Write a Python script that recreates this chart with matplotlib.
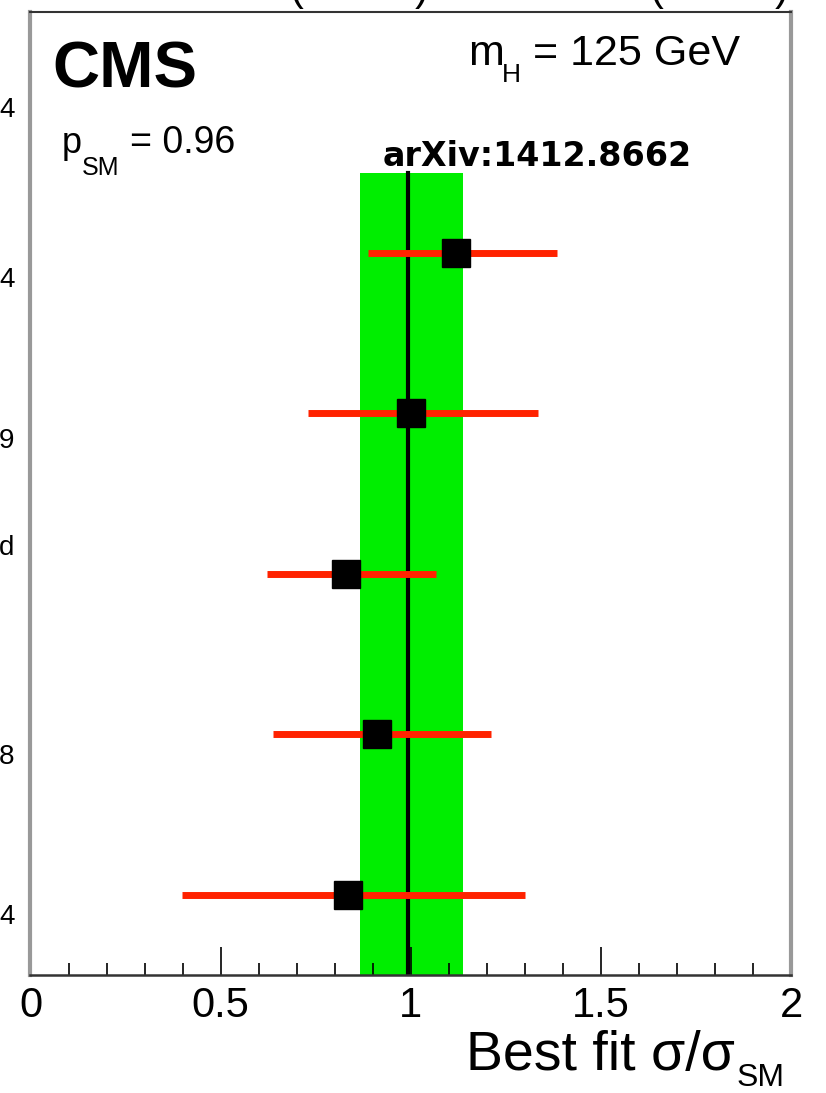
import matplotlib
matplotlib.use("Agg")
import matplotlib.pyplot as plt
from matplotlib.ticker import MultipleLocator

plt.rcParams['font.family'] = ['Liberation Sans', 'DejaVu Sans']
plt.rcParams['mathtext.fontset'] = 'custom'
plt.rcParams['mathtext.rm'] = 'Liberation Sans'

# best fit signal strength per channel, bottom to top
rows = [0.5, 1.5, 2.5, 3.5, 4.5]
mu = [0.835, 0.911, 0.830, 1.00, 1.12]
mu_lo = [0.398, 0.638, 0.622, 0.730, 0.888]
mu_hi = [1.300, 1.211, 1.066, 1.335, 1.385]

# combined result and its band
mu_comb = 0.993
band_lo, band_hi = 0.866, 1.138

# ends of the row labels that sit left of the frame
side_labels = ["4", "4", "9", "d", "8", "4"]
side_y = [5.39, 4.33, 3.33, 2.66, 1.36, 0.36]

W, H = 826, 1093
fig = plt.figure(figsize=(W / 100, H / 100), dpi=100)
ax = fig.add_axes([30.5 / W, 1 - 975 / H, 760.5 / W, 963 / H])


def px_text(x, y, s, size, **kw):
    # place text by pixel position (from top-left), baseline anchored
    return fig.text(x / W, 1 - y / H, s, fontsize=size, va='baseline', **kw)


ax.fill_betweenx([0, 5], band_lo, band_hi, color='#00ee00', lw=0, zorder=1)
ax.plot([mu_comb, mu_comb], [0, 5], color='black', lw=3, zorder=2)

ax.hlines(rows, mu_lo, mu_hi, color='#ff2200', lw=5, zorder=3)
ax.plot(mu, rows, 's', color='black', markersize=20, zorder=4)

ax.set_xlim(0, 2)
ax.set_ylim(0, 6)
ax.xaxis.set_minor_locator(MultipleLocator(0.1))
ax.set_xticks([0, 0.5, 1, 1.5, 2])
ax.set_xticklabels(["0", "0.5", "1", "1.5", "2"])
ax.tick_params(axis='x', which='major', direction='in', length=20, width=1.2,
               labelsize=30, pad=8, top=False)
ax.tick_params(axis='x', which='minor', direction='in', length=9, width=1.2, top=False)
ax.set_yticks([])

for side in ['left', 'right']:
    ax.spines[side].set_color('#999999')
    ax.spines[side].set_linewidth(3)
ax.spines['top'].set_color('#333333')
ax.spines['top'].set_linewidth(1.5)
ax.spines['bottom'].set_color('#333333')
ax.spines['bottom'].set_linewidth(1.8)

# axis title with a dropped subscript
px_text(735, 1070, "Best fit σ/σ", 40, ha='right')
px_text(737, 1086, "SM", 23, ha='left')

px_text(52, 88, "CMS", 47, fontweight='bold')

px_text(468, 65, "m", 31)
px_text(502, 82, "H", 19)
px_text(533, 65, "= 125 GeV", 31)

px_text(62, 153, "p", 26)
px_text(82, 175, "SM", 18)
px_text(130, 153, "= 0.96", 27)

px_text(383, 166, "arXiv:1412.8662", 24, fontweight='bold', family='DejaVu Sans')

for lab, y in zip(side_labels, side_y):
    ax.text(-16 / 760.5, y, lab, transform=ax.get_yaxis_transform(), fontsize=20,
            ha='right', va='center')

# luminosity line above the frame
px_text(787, 1, r"4.9 fb$^\mathregular{-1}$ (7 TeV) + 19.4 fb$^\mathregular{-1}$ (8 TeV)",
        30, ha='right')

fig.savefig("out.png", dpi=100)
